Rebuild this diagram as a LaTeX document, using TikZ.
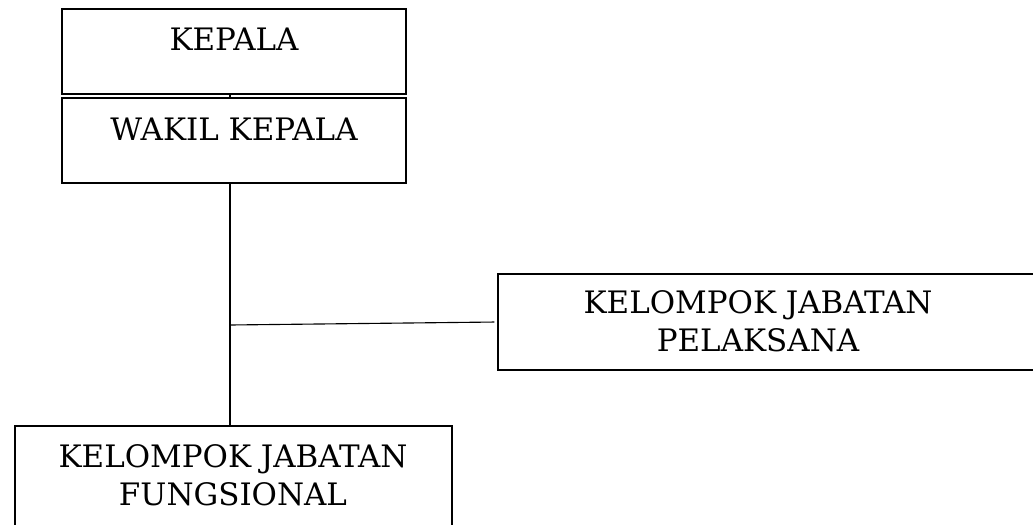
\documentclass[tikz,border=0pt]{standalone}
\usepackage{fontspec}
\setmainfont{DejaVu Serif}
\begin{document}
\begin{tikzpicture}[x=0.025cm, y=-0.025cm,
    box/.style={draw, line width=0.9pt, inner sep=0pt},
    txt/.style={anchor=north, inner sep=0pt, align=center,
        font=\fontsize{22}{27}\selectfont}]
                \useasboundingbox (0,0) rectangle (1033,525);
                \clip (0,0) rectangle (1033,525);

                % boxes
                \node[box, minimum width=344*0.025cm, minimum height=85*0.025cm] (K) at (234, 51.5) {};
                \node[box, minimum width=344*0.025cm, minimum height=85*0.025cm] (W) at (234, 140.5) {};
                \node[box, minimum width=545*0.025cm, minimum height=96*0.025cm] (P) at (770.5, 322) {};
                \node[box, minimum width=437*0.025cm, minimum height=110*0.025cm] (F) at (233.5, 481) {};

                % texts
                \node[txt] (K1) at (234, 28) {KEPALA};
                \node[txt] (W1) at (234, 118) {WAKIL KEPALA};
                \node[txt] (P1) at (758, 290) {KELOMPOK JABATAN\\PELAKSANA};
                \node[txt] (F1) at (233, 444) {KELOMPOK JABATAN\\FUNGSIONAL};

                \coordinate (J) at (230, 325);

                \draw[line width=0.8pt] (K.south -| J) to (W.north -| J);
                \draw[line width=0.8pt] (W.south -| J) to (F.north -| J);
                \draw[line width=0.8pt, shorten >=3*0.025cm] (J) to (P.west);
            \end{tikzpicture}
\end{document}
